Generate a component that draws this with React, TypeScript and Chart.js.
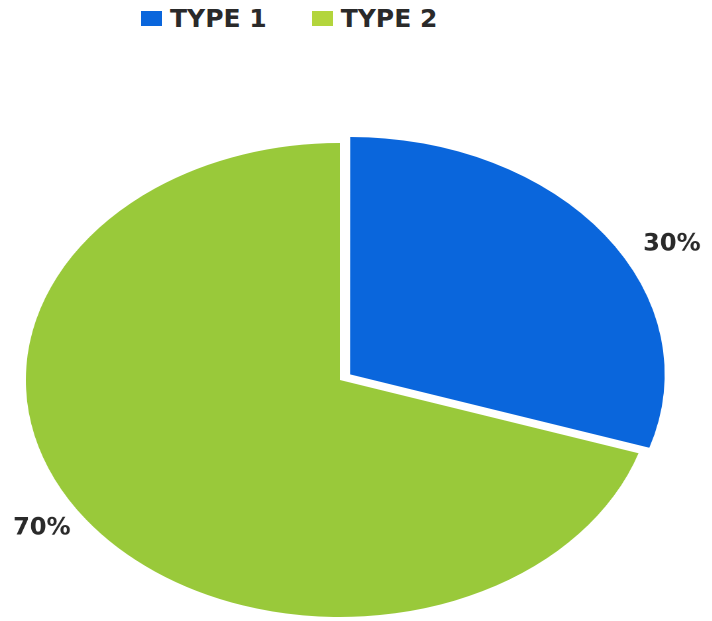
import React, { useEffect, useRef } from "react";
import { Chart, registerables } from "chart.js";

Chart.register(...registerables);

const categories = ["TYPE 1", "TYPE 2"];
const values = [30, 70];
const percentLabels = ["30%", "70%"];
const sliceColors = ["#0a66dc", "#99c93a"];
const legendColors = ["#0a66dc", "#b3d53c"];
const sliceOffsets = [38, 0];

const STRETCH = 1.325;
const CANVAS_W = 537;
const CANVAS_H = 621;

const labelPlugin = {
  id: "pctLabels",
  afterDatasetsDraw(chart: any) {
    const ctx = chart.ctx;
    const meta = chart.getDatasetMeta(0);
    meta.data.forEach((arc: any, i: number) => {
      const p = arc.getProps(["x", "y", "startAngle", "endAngle", "outerRadius"], true);
      const mid = (p.startAngle + p.endAngle) / 2;
      const off = (sliceOffsets[i] || 0) / 4;
      const lx = p.x + Math.cos(mid) * (p.outerRadius * 1.22 + off) + 9;
      const ly = p.y + Math.sin(mid) * (p.outerRadius * 1.0 + off) + 9;
      ctx.save();
      ctx.translate(lx, ly);
      ctx.scale(1 / STRETCH, 1);
      ctx.font = "bold 24px 'DejaVu Sans'";
      ctx.fillStyle = "#2a2a2a";
      ctx.textAlign = "center";
      ctx.textBaseline = "middle";
      ctx.fillText(percentLabels[i], 0, 0);
      ctx.restore();
    });
  },
};

export default function App() {
  const canvasRef = useRef<HTMLCanvasElement | null>(null);

  useEffect(() => {
    if (!canvasRef.current) return;
    const chart = new Chart(canvasRef.current, {
      type: "pie",
      data: {
        labels: categories,
        datasets: [
          {
            data: values,
            backgroundColor: sliceColors,
            offset: sliceOffsets,
            borderWidth: 0,
            hoverOffset: 0,
            clip: false,
          } as any,
        ],
      },
      options: {
        responsive: false,
        animation: false,
        devicePixelRatio: 2,
        events: [],
        radius: 237,
        layout: { padding: { top: 139, bottom: 0, left: 0, right: 24 } },
        plugins: {
          legend: { display: false },
          tooltip: { enabled: false },
        },
      } as any,
      plugins: [labelPlugin],
    });
    return () => chart.destroy();
  }, []);

  return (
    <div
      style={{
        position: "absolute",
        left: 0,
        top: 0,
        width: 712,
        height: 621,
        overflow: "hidden",
        background: "#ffffff",
      }}
    >
      <div
        style={{
          position: "absolute",
          left: 141,
          top: 6,
          height: 25,
          display: "flex",
          alignItems: "center",
          fontFamily: "'DejaVu Sans', sans-serif",
          fontWeight: "bold",
          fontSize: 25,
          lineHeight: "25px",
          color: "#2a2a2a",
          whiteSpace: "nowrap",
        }}
      >
        {categories.map((c, i) => (
          <div
            key={c}
            style={{ display: "flex", alignItems: "center", marginRight: i === 0 ? 45 : 0 }}
          >
            <span
              style={{
                display: "inline-block",
                width: 21,
                height: 15,
                background: legendColors[i],
                marginRight: 8,
              }}
            />
            <span>{c}</span>
          </div>
        ))}
      </div>
      <div
        style={{
          position: "absolute",
          left: 0,
          top: 0,
          width: CANVAS_W,
          height: CANVAS_H,
          transform: `scaleX(${STRETCH})`,
          transformOrigin: "0 0",
        }}
      >
        <canvas ref={canvasRef} width={CANVAS_W} height={CANVAS_H} />
      </div>
    </div>
  );
}
